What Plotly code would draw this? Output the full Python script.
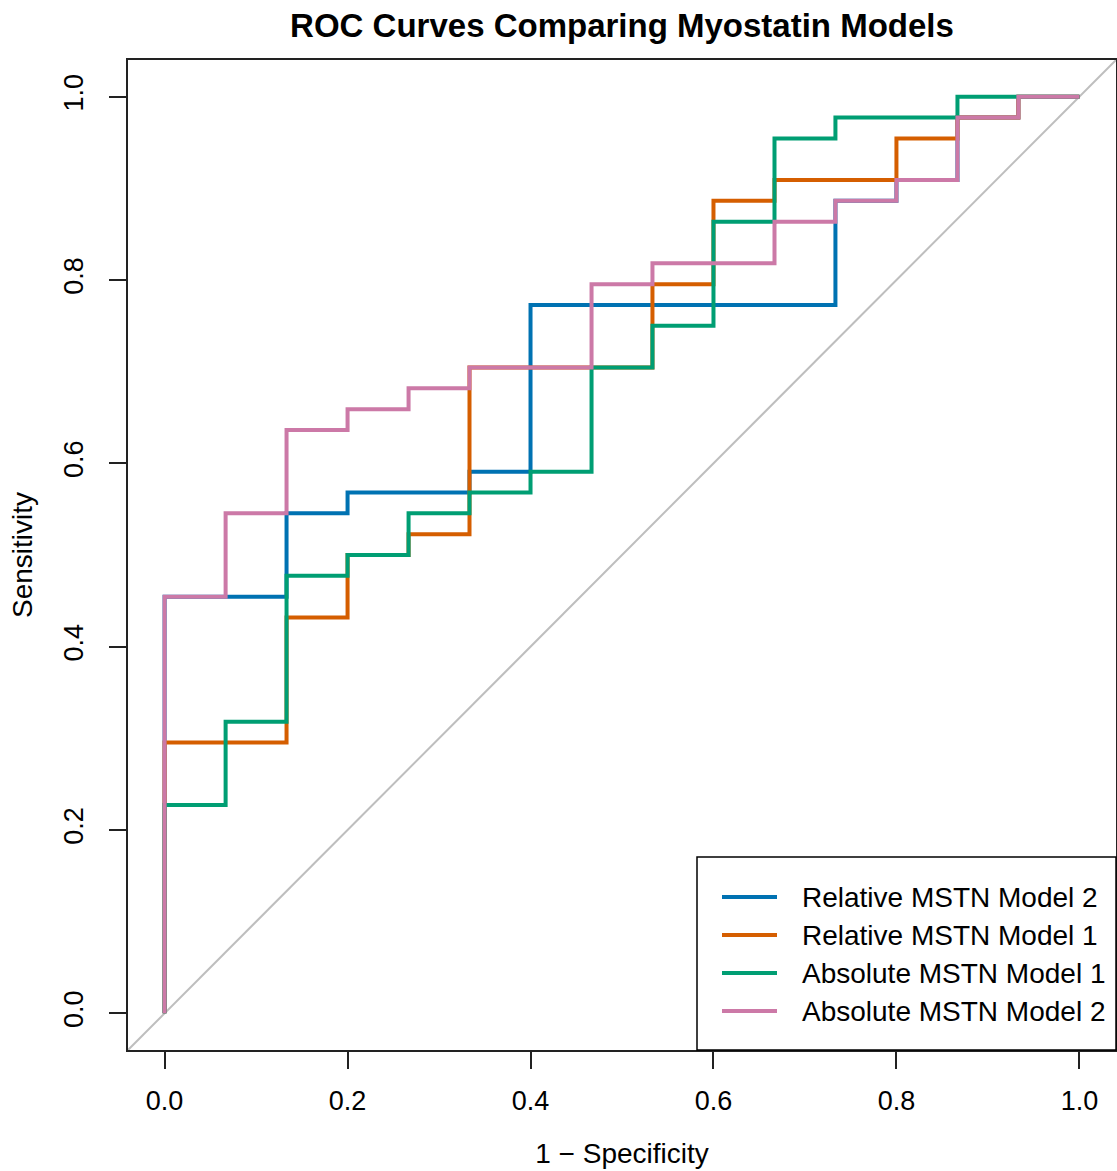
import plotly.graph_objects as go

# ROC curve vertices (1 - specificity, sensitivity)
rel2_fpr = [0, 0, 0.1333, 0.1333, 0.2, 0.2, 0.3333, 0.3333, 0.4, 0.4, 0.7333, 0.7333, 0.8, 0.8, 0.8667, 0.8667, 0.9333, 0.9333, 1.0]
rel2_tpr = [0, 0.4545, 0.4545, 0.5455, 0.5455, 0.5682, 0.5682, 0.5909, 0.5909, 0.7727, 0.7727, 0.8864, 0.8864, 0.9091, 0.9091, 0.9773, 0.9773, 1.0, 1.0]

rel1_fpr = [0, 0, 0.1333, 0.1333, 0.2, 0.2, 0.2667, 0.2667, 0.3333, 0.3333, 0.5333, 0.5333, 0.6, 0.6, 0.6667, 0.6667, 0.8, 0.8, 0.8667, 0.8667, 0.9333, 0.9333, 1.0]
rel1_tpr = [0, 0.2955, 0.2955, 0.4318, 0.4318, 0.5, 0.5, 0.5227, 0.5227, 0.7045, 0.7045, 0.7955, 0.7955, 0.8864, 0.8864, 0.9091, 0.9091, 0.9545, 0.9545, 0.9773, 0.9773, 1.0, 1.0]

abs1_fpr = [0, 0, 0.0667, 0.0667, 0.1333, 0.1333, 0.2, 0.2, 0.2667, 0.2667, 0.3333, 0.3333, 0.4, 0.4, 0.4667, 0.4667, 0.5333, 0.5333, 0.6, 0.6, 0.6667, 0.6667, 0.7333, 0.7333, 0.8667, 0.8667, 1.0]
abs1_tpr = [0, 0.2273, 0.2273, 0.3182, 0.3182, 0.4773, 0.4773, 0.5, 0.5, 0.5455, 0.5455, 0.5682, 0.5682, 0.5909, 0.5909, 0.7045, 0.7045, 0.75, 0.75, 0.8636, 0.8636, 0.9545, 0.9545, 0.9773, 0.9773, 1.0, 1.0]

abs2_fpr = [0, 0, 0.0667, 0.0667, 0.1333, 0.1333, 0.2, 0.2, 0.2667, 0.2667, 0.3333, 0.3333, 0.4667, 0.4667, 0.5333, 0.5333, 0.6667, 0.6667, 0.7333, 0.7333, 0.8, 0.8, 0.8667, 0.8667, 0.9333, 0.9333, 1.0]
abs2_tpr = [0, 0.4545, 0.4545, 0.5455, 0.5455, 0.6364, 0.6364, 0.6591, 0.6591, 0.6818, 0.6818, 0.7045, 0.7045, 0.7955, 0.7955, 0.8182, 0.8182, 0.8636, 0.8636, 0.8864, 0.8864, 0.9091, 0.9091, 0.9773, 0.9773, 1.0, 1.0]

series_names = ["Relative MSTN Model 2", "Relative MSTN Model 1", "Absolute MSTN Model 1", "Absolute MSTN Model 2"]
series_x = [rel2_fpr, rel1_fpr, abs1_fpr, abs2_fpr]
series_y = [rel2_tpr, rel1_tpr, abs1_tpr, abs2_tpr]
colors = ["#0072B2", "#D55E00", "#009E73", "#CC79A7"]

tick_vals = [0.0, 0.2, 0.4, 0.6, 0.8, 1.0]
tick_text = ["0.0", "0.2", "0.4", "0.6", "0.8", "1.0"]

FONT = "Liberation Sans, Arial, sans-serif"

W, H = 1117, 1171
ML, MR, MT, MB = 128, 1, 60, 121
PW, PH = W - ML - MR, H - MT - MB

def px_x(p):
    return (p - ML) / PW

def px_y(p):
    return (MT + PH - p) / PH

fig = go.Figure()
for name, xs, ys, c in zip(series_names, series_x, series_y, colors):
    fig.add_trace(go.Scatter(x=xs, y=ys, mode="lines", name=name,
                             line=dict(color=c, width=4), showlegend=False))

# chance diagonal (R abline(0, 1)) across the whole plotting region
fig.add_shape(type="line", xref="x domain", yref="y domain", x0=0, y0=0, x1=1, y1=1,
              line=dict(color="#BEBEBE", width=2), layer="below")

# legend box (R-style, bottom right)
fig.add_shape(type="rect", xref="paper", yref="paper",
              x0=px_x(697), x1=px_x(1116), y0=px_y(1050), y1=px_y(857),
              line=dict(color="black", width=1.5), fillcolor="white", layer="above")
row_y = [897, 935, 973, 1011]
for name, c, ry in zip(series_names, colors, row_y):
    fig.add_shape(type="line", xref="paper", yref="paper",
                  x0=px_x(722), x1=px_x(777), y0=px_y(ry), y1=px_y(ry),
                  line=dict(color=c, width=4), layer="above")
    fig.add_annotation(xref="paper", yref="paper", x=px_x(800), y=px_y(ry),
                       text=name, showarrow=False, xanchor="left", yanchor="middle",
                       font=dict(family=FONT, size=28, color="black"))

axis_common = dict(range=[-0.04, 1.04], showgrid=False, zeroline=False,
                   showline=True, linecolor="#222222", linewidth=2, mirror=True,
                   ticks="outside", ticklen=17, tickwidth=2, tickcolor="#222222",
                   tickvals=tick_vals, ticktext=tick_text,
                   tickfont=dict(family=FONT, size=27, color="black"))

fig.update_xaxes(**axis_common, ticklabelstandoff=9,
                 title=dict(text="1 − Specificity", font=dict(family=FONT, size=28, color="black"), standoff=28))
fig.update_yaxes(**axis_common, tickangle=-90, ticklabelstandoff=15,
                 title=dict(text="Sensitivity", font=dict(family=FONT, size=28, color="black"), standoff=18))

fig.update_layout(
    width=W, height=H,
    margin=dict(l=ML, r=MR, t=MT, b=MB, autoexpand=False),
    paper_bgcolor="white", plot_bgcolor="white",
    title=dict(text="<b>ROC Curves Comparing Myostatin Models</b>",
               font=dict(family=FONT, size=33, color="black"),
               x=0.5, xref="paper", y=1 - 25 / H, yref="container", yanchor="middle"),
    showlegend=False,
)

fig.write_html("out.html", config={"displayModeBar": False},
               post_script="document.body.style.margin='0';")
